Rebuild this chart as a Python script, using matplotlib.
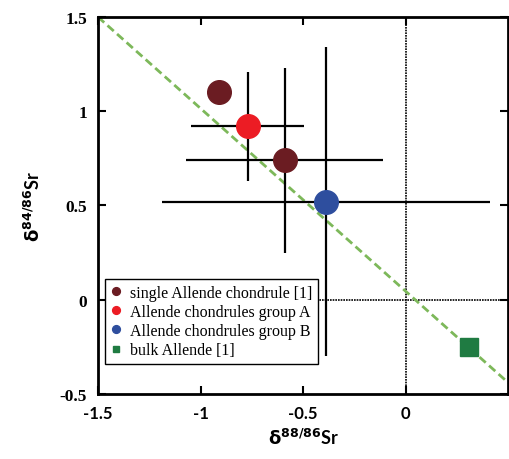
import matplotlib
matplotlib.use("Agg")
import matplotlib.pyplot as plt

# data
single_x = [-0.91, -0.59]
single_y = [1.10, 0.74]
single_xerr = [0.0, 0.48]
single_yerr = [0.0, 0.49]

groupA_x = [-0.77]
groupA_y = [0.92]
groupA_xerr = [0.275]
groupA_yerr = [0.29]

groupB_x = [-0.39]
groupB_y = [0.52]
groupB_xerr = [0.80]
groupB_yerr = [0.82]

bulk_x = [0.31]
bulk_y = [-0.25]

line_x = [-1.5, 0.5]
line_slope = -0.97
line_icpt = 0.045

xticks = [-1.5, -1, -0.5, 0]
yticks = [-0.5, 0, 0.5, 1, 1.5]

fig = plt.figure(figsize=(5.09, 4.60), dpi=100)
ax = fig.add_axes([0.1925, 0.1413, 0.806, 0.8196])

ax.axvline(0, color="black", linestyle=(0, (1, 0.6)), linewidth=1.2, zorder=1)
ax.axhline(0, color="black", linestyle=(0, (1, 0.6)), linewidth=1.2, zorder=1)

ax.plot(line_x, [line_slope * v + line_icpt for v in line_x], color="#7DB85A",
        linestyle="--", linewidth=2, dashes=(3, 1.6), zorder=2)

ekw = dict(fmt="none", ecolor="black", elinewidth=1.6, capsize=0, zorder=3)
ax.errorbar(single_x, single_y, xerr=single_xerr, yerr=single_yerr, **ekw)
ax.errorbar(groupA_x, groupA_y, xerr=groupA_xerr, yerr=groupA_yerr, **ekw)
ax.errorbar(groupB_x, groupB_y, xerr=groupB_xerr, yerr=groupB_yerr, **ekw)

ax.plot(single_x, single_y, "o", color="#6B1C22", markersize=17, linestyle="none",
        zorder=4, label="single Allende chondrule [1]")
ax.plot(groupA_x, groupA_y, "o", color="#EC1C24", markersize=17, linestyle="none",
        zorder=4, label="Allende chondrules group A")
ax.plot(groupB_x, groupB_y, "o", color="#2E4E9E", markersize=17, linestyle="none",
        zorder=4, label="Allende chondrules group B")
ax.plot(bulk_x, bulk_y, "s", color="#1F7B42", markersize=13, linestyle="none",
        zorder=4, label="bulk Allende [1]")

ax.set_xlim(-1.5, 0.5)
ax.set_ylim(-0.5, 1.5)
ax.set_xticks(xticks)
ax.set_yticks(yticks)
ax.set_xticklabels([f"{v:g}" for v in xticks], fontfamily="Lato", fontweight="bold", fontsize=12)
ax.set_yticklabels([f"{v:g}" for v in yticks], fontfamily="Liberation Serif", fontweight="bold", fontsize=12.5)
ax.tick_params(direction="in", top=True, right=True, length=6, width=1.5, pad=8)

for s in ax.spines.values():
    s.set_linewidth(2)

ax.set_xlabel(r"$\mathbf{\delta}^{\mathbf{88/86}}$Sr", fontfamily="Lato", fontweight="bold",
              fontsize=13, labelpad=4)
ax.set_ylabel(r"$\mathbf{\delta}^{\mathbf{84/86}}$Sr", fontfamily="Lato", fontweight="bold",
              fontsize=13, labelpad=12)

leg = ax.legend(loc="lower left", bbox_to_anchor=(0.017, 0.08), borderaxespad=0,
                prop={"family": "Liberation Serif", "size": 11.5}, markerscale=0.33,
                handlelength=0.7, handletextpad=0.5, labelspacing=0.2,
                fancybox=False, framealpha=1, edgecolor="black", borderpad=0.35)
leg.get_frame().set_linewidth(1.0)

fig.savefig("out.png", dpi=100, facecolor="white")
